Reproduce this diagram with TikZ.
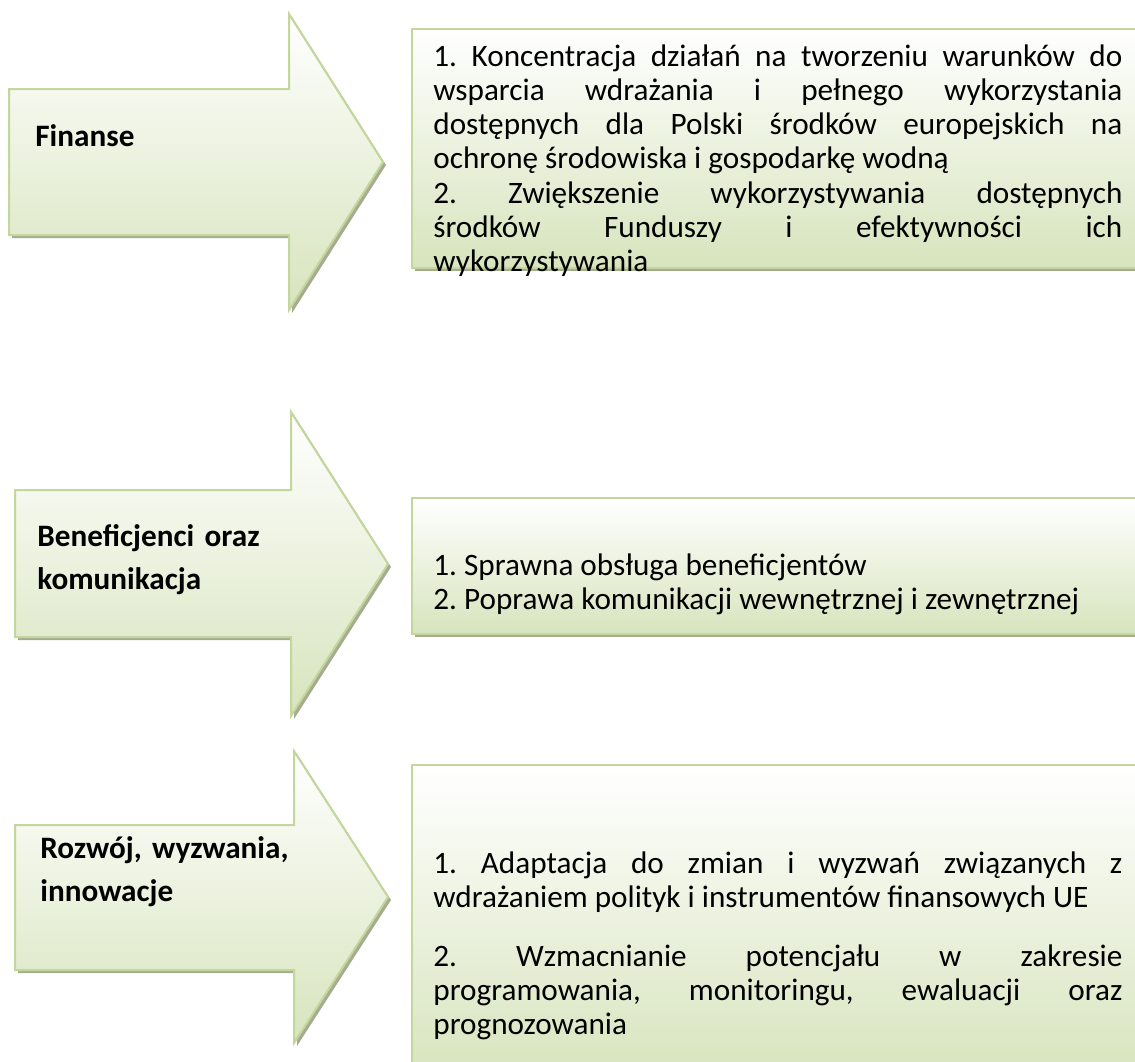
\documentclass[tikz,border=0pt]{standalone}
\usepackage{fontspec}
\setmainfont{Carlito}
\usetikzlibrary{shadows}
\tolerance=10000\relax
\hbadness=10000\relax

\definecolor{ramkazielona}{HTML}{C3D69B}
\definecolor{dolzielony}{HTML}{D7E4BD}
\definecolor{cien}{HTML}{A5AC90}

\tikzset{
  ksztalt/.style={draw=ramkazielona, line width=1pt, top color=white, bottom color=dolzielony,
    drop shadow={shadow xshift=1.5pt, shadow yshift=-1.5pt, fill=cien, opacity=1}},
  obszar/.style={inner sep=0pt, anchor=base west, text width=140pt, align=left,
    font=\fontsize{15.6}{21.5}\selectfont\bfseries},
  cel/.style={inner sep=0pt, anchor=base west, text width=344.5pt, align=justify,
    font=\fontsize{15.6}{17.15}\selectfont\frenchspacing}
}

\begin{document}
\begin{tikzpicture}[x=0.5pt,y=-0.5pt]
\useasboundingbox (0,0) rectangle (1135,1061);
\clip (0,0) rectangle (1135,1061);

% strzalki
\draw[ksztalt] (9,89) -- (289,89) -- (289,14) -- (383,162) -- (289,310) -- (289,235) -- (9,235) -- cycle;
\draw[ksztalt] (15,490) -- (291,490) -- (291,412) -- (388,564) -- (291,716) -- (291,637) -- (15,637) -- cycle;
\draw[ksztalt] (15,825) -- (294,825) -- (294,751) -- (388,897) -- (294,1043) -- (294,970) -- (15,970) -- cycle;

% ramki
\draw[ksztalt] (412,29) rectangle (1150,268);
\draw[ksztalt] (412,498) rectangle (1150,634);
\draw[ksztalt] (412,765) rectangle (1150,1080);

% obszary
\node[obszar] (finanse) at (35,146) {Finanse};
\node[obszar] (beneficjenci) at (37,546) {Beneficjenci oraz\\ komunikacja};
\node[obszar] (rozwoj) at (40,858) {Rozwój, wyzwania,\\ innowacje};

% cele
\node[cel] (cel11) at (433,66) {1. Koncentracja działań na tworzeniu warunków do\linebreak wsparcia wdrażania i pełnego wykorzystania\linebreak dostępnych dla Polski środków europejskich na\linebreak ochronę środowiska i gospodarkę wodną};
\node[cel] (cel12) at (433,203) {2. Zwiększenie wykorzystywania dostępnych\linebreak środków Funduszy i efektywności ich\linebreak wykorzystywania};
\node[cel] (cel21) at (433,575) {1. Sprawna obsługa beneficjentów};
\node[cel] (cel22) at (433,609) {2. Poprawa komunikacji wewnętrznej i zewnętrznej};
\node[cel] (cel31) at (433,873) {1. Adaptacja do zmian i wyzwań związanych z\linebreak wdrażaniem polityk i instrumentów finansowych UE};
\node[cel] (cel32) at (433,966) {2. Wzmacnianie potencjału w zakresie\linebreak programowania, monitoringu, ewaluacji oraz\linebreak prognozowania};
\end{tikzpicture}
\end{document}
